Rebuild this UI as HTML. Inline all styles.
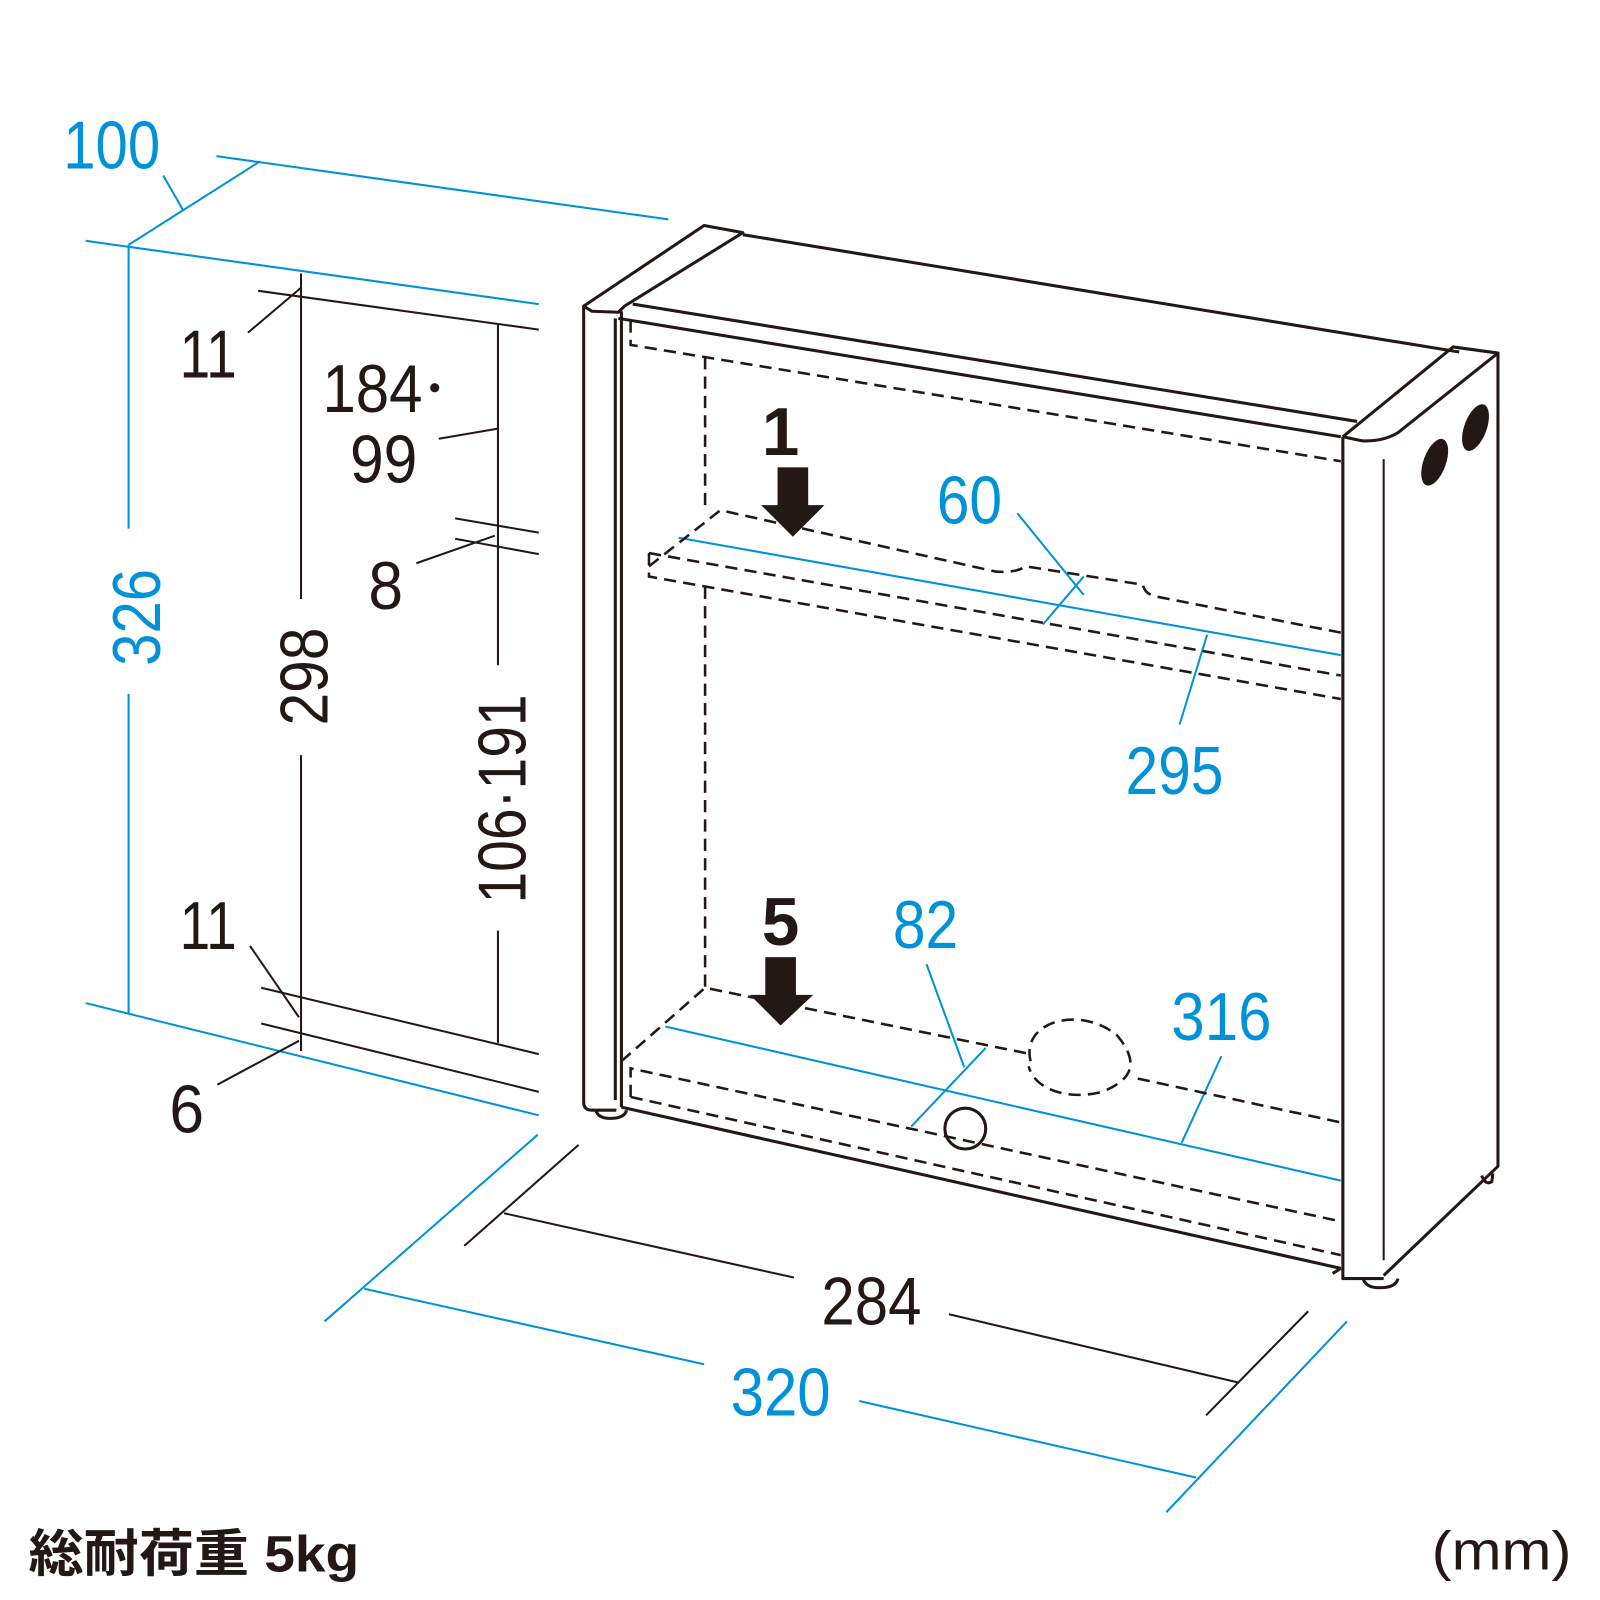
<!DOCTYPE html>
<html><head><meta charset="utf-8"><style>html,body{margin:0;padding:0;background:#fff}svg{display:block}</style></head>
<body>
<svg width="1600" height="1600" viewBox="0 0 1568 1568" xmlns="http://www.w3.org/2000/svg" font-family="'Liberation Sans','Noto Sans CJK JP',sans-serif">
<g stroke="#0092d8" stroke-width="2" fill="none">
<line x1="160" y1="172" x2="180" y2="207"/>
<line x1="126" y1="240" x2="255" y2="158"/>
<line x1="212" y1="153" x2="655" y2="215"/>
<line x1="84" y1="236" x2="528" y2="298"/>
<line x1="126" y1="240" x2="126" y2="518"/>
<line x1="126" y1="680" x2="126" y2="993"/>
<line x1="84" y1="983" x2="528" y2="1093"/>
<line x1="318" y1="1295" x2="527" y2="1112"/>
<line x1="1143" y1="1482" x2="1320" y2="1295"/>
<line x1="357" y1="1263" x2="690" y2="1337"/>
<line x1="842" y1="1373" x2="1172" y2="1448"/>
<line x1="997" y1="503" x2="1062" y2="583"/>
<line x1="1022" y1="612" x2="1062" y2="565"/>
<line x1="665" y1="527" x2="1314" y2="642"/>
<line x1="1183" y1="622" x2="1156" y2="710"/>
<line x1="908" y1="945" x2="945" y2="1046"/>
<line x1="893" y1="1104" x2="966" y2="1027"/>
<line x1="652" y1="1006" x2="1314" y2="1157"/>
<line x1="1197" y1="1035" x2="1158" y2="1120"/>
</g>
<g fill="#0092d8" font-size="66">
<text x="62" y="165" textLength="95" lengthAdjust="spacingAndGlyphs">100</text>
<text transform="translate(157,605) rotate(-90)" text-anchor="middle" textLength="95" lengthAdjust="spacingAndGlyphs">326</text>
<text x="918" y="513" textLength="64" lengthAdjust="spacingAndGlyphs">60</text>
<text x="1103" y="778" textLength="96" lengthAdjust="spacingAndGlyphs">295</text>
<text x="875" y="929" textLength="64" lengthAdjust="spacingAndGlyphs">82</text>
<text x="1148" y="1019" textLength="98" lengthAdjust="spacingAndGlyphs">316</text>
<text x="716" y="1387" textLength="98" lengthAdjust="spacingAndGlyphs">320</text>
</g>
<g stroke="#231815" stroke-width="2" fill="none">
<line x1="243" y1="326" x2="295" y2="282"/>
<line x1="295" y1="268" x2="295" y2="587"/>
<line x1="295" y1="740" x2="295" y2="1030"/>
<line x1="253" y1="285" x2="528" y2="323"/>
<line x1="430" y1="430" x2="488" y2="420"/>
<line x1="488" y1="318" x2="488" y2="652"/>
<line x1="488" y1="912" x2="488" y2="1022"/>
<line x1="446" y1="508" x2="528" y2="522"/>
<line x1="446" y1="528" x2="528" y2="543"/>
<line x1="408" y1="552" x2="485" y2="525"/>
<line x1="245" y1="927" x2="293" y2="997"/>
<line x1="256" y1="968" x2="528" y2="1033"/>
<line x1="256" y1="1003" x2="528" y2="1070"/>
<line x1="213" y1="1063" x2="293" y2="1020"/>
<line x1="455" y1="1221" x2="567" y2="1122"/>
<line x1="1182" y1="1387" x2="1282" y2="1285"/>
<line x1="494" y1="1189" x2="778" y2="1252"/>
<line x1="930" y1="1288" x2="1214" y2="1355"/>
</g>
<g fill="#231815" font-size="66">
<text x="176" y="370" textLength="56" lengthAdjust="spacingAndGlyphs">11</text>
<text x="316" y="404" textLength="98" lengthAdjust="spacingAndGlyphs">184</text>
<circle cx="426" cy="380" r="4.5"/>
<text x="343" y="473" textLength="66" lengthAdjust="spacingAndGlyphs">99</text>
<text x="361" y="597" textLength="34" lengthAdjust="spacingAndGlyphs">8</text>
<text transform="translate(321,663) rotate(-90)" text-anchor="middle" textLength="96" lengthAdjust="spacingAndGlyphs">298</text>
<text transform="translate(515,783) rotate(-90)" text-anchor="middle" textLength="205" lengthAdjust="spacingAndGlyphs">106·191</text>
<text x="176" y="930" textLength="56" lengthAdjust="spacingAndGlyphs">11</text>
<text x="166" y="1110" textLength="34" lengthAdjust="spacingAndGlyphs">6</text>
<text x="805" y="1298" textLength="98" lengthAdjust="spacingAndGlyphs">284</text>
<text x="765" y="446" font-weight="bold" text-anchor="middle">1</text>
<text x="765" y="926" font-weight="bold" text-anchor="middle">5</text>
<text x="28" y="1540" font-size="50" font-weight="bold" textLength="324" lengthAdjust="spacingAndGlyphs">総耐荷重 5kg</text>
<text x="1403" y="1538" font-size="54" textLength="137" lengthAdjust="spacingAndGlyphs">(mm)</text>
</g>
<!-- arrows -->
<g fill="#231815">
<rect x="762" y="458" width="30" height="38"/><polygon points="746,495 808,495 777,526"/>
<rect x="750" y="938" width="30" height="38"/><polygon points="735,975 797,975 765,1005"/>
</g>
<!-- dashed -->
<g stroke="#231815" stroke-width="2.5" fill="none" stroke-dasharray="12,7">
<polyline points="618,314 618,338 1314,452"/>
<line x1="691" y1="350" x2="691" y2="497"/>
<line x1="691" y1="575" x2="691" y2="968"/>
<path d="M636,555 L706,500 L975,560 Q995,562 1005,555 L1120,573 Q1122,583 1135,585 L1314,620"/>
<path d="M636,542 L636,565 L1314,685"/>
<line x1="636" y1="542" x2="1314" y2="662"/>
<path d="M609,1040 L691,968 L1010,1033"/>
<path d="M1010,1040 C1000,1000 1060,985 1095,1015 C1120,1045 1105,1060 1080,1070 C1050,1078 1015,1070 1008,1045"/>
<line x1="1115" y1="1057" x2="1314" y2="1100"/>
<path d="M618,1075 L618,1047 L1314,1197"/>
<line x1="618" y1="1075" x2="1314" y2="1230"/>
</g>
<!-- box solid -->
<g stroke="#231815" stroke-width="3" fill="none" stroke-linejoin="round">
<path d="M609,305 L609,1085"/>
<path d="M603,312 L603,1078"/>
<path d="M572,300 L690,221 L728,228 L612,300 L606,306 L580,305 Z"/>
<path d="M572,300 L572,1080 Q572,1088 580,1088 L604,1088"/>
<line x1="728" y1="230" x2="1430" y2="345"/>
<line x1="620" y1="298" x2="1330" y2="413"/>
<line x1="606" y1="312" x2="1314" y2="428"/>
<path d="M1316,428 L1424,340 L1468,346 L1370,424 Q1355,433 1335,432 L1316,428"/>
<path d="M1316,428 L1316,1253 L1356,1253"/>
<path d="M1468,346 L1468,1143 L1356,1250"/>
<line x1="1356" y1="450" x2="1356" y2="1235" stroke-width="2"/>
<line x1="609" y1="1085" x2="1314" y2="1243"/>
<line x1="1314" y1="1243" x2="1306" y2="1248"/>
<circle cx="946" cy="1106" r="20"/>
<path d="M584,1088 Q586,1096 598,1096 Q612,1096 614,1088"/>
<path d="M1336,1253 Q1338,1262 1352,1262 Q1368,1262 1370,1253"/>
<path d="M1452,1152 Q1456,1162 1462,1158 L1463,1150"/>
</g>
<g fill="#231815">
<ellipse cx="1406" cy="453" rx="11" ry="24" transform="rotate(20 1406 453)"/>
<ellipse cx="1446" cy="419" rx="11" ry="24" transform="rotate(20 1446 419)"/>
</g>
</svg>
</body></html>
